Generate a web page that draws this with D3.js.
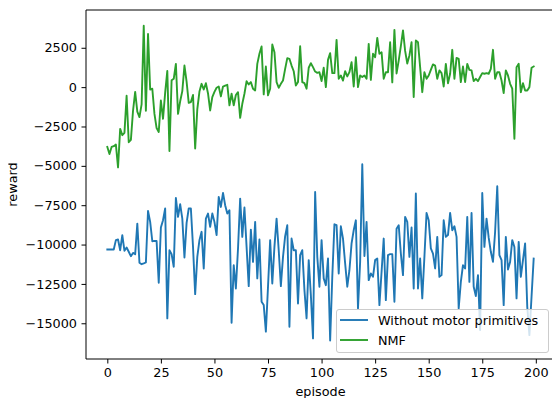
<!DOCTYPE html>
<html>
<head>
<meta charset="utf-8">
<script src="https://cdn.jsdelivr.net/npm/d3@7"></script>
<style>
  html, body { margin: 0; padding: 0; background: #fff; }
  svg { display: block; }
  text { font-family: "DejaVu Sans", sans-serif; }
</style>
</head>
<body>
<svg id="chart" width="552" height="398"></svg>
<script>
// ---- data ----
const seriesNames = ["Without motor primitives", "NMF"];
const seriesColors = ["#1f77b4", "#2ca02c"];
const xTicks = [0, 25, 50, 75, 100, 125, 150, 175, 200];
const yTicks = [2500, 0, -2500, -5000, -7500, -10000, -12500, -15000];
const xLabel = "episode";
const yLabel = "reward";

const withoutPrimitives = [
  -10310, -10310, -10310, -10310, -9720, -9680, -10360, -9400, -10400, -10190,
  -10460, -10740, -10530, -10610, -8670, -11160, -11250, -11200, -11140, -7860,
  -8560, -9790, -9770, -9770, -12430, -8920, -8450, -7710, -14690, -10360,
  -10610, -11410, -7040, -8240, -7440, -8350, -10820, -8620, -7710, -7710,
  -10150, -13150, -10780, -9720, -9190, -11520, -8350, -8030, -8880, -8030,
  -8560, -9400, -6970, -7610, -6720, -7500, -8030, -7820, -14970, -11310,
  -12790, -10250, -7080, -9510, -7650, -10150, -12640, -9050, -11100, -8560,
  -12150, -9680, -13630, -13840, -15530, -12680, -9720, -12470, -10150, -8350,
  -10360, -12640, -10780, -9470, -8770, -15220, -9620, -10360, -10360, -13740,
  -10670, -10360, -12890, -14690, -10990, -13210, -15960, -6660, -10780, -12680,
  -9720, -12150, -12580, -10890, -16100, -12050, -8710, -8770, -11840, -8840,
  -9620, -11200, -12680, -11630, -9930, -9090, -8460, -14060, -11100, -4900,
  -10730, -8560, -12260, -11840, -12050, -10990, -10890, -13850, -11740, -9620,
  -13530, -10670, -10610, -10610, -13630, -9000, -8770, -10570, -11940, -8240,
  -8560, -10780, -8920, -12790, -6760, -12790, -10890, -13420, -10780, -7990,
  -8460, -10250, -10570, -11520, -9510, -12050, -11940, -8460, -9510, -9400,
  -7990, -9090, -8840, -9510, -14060, -12370, -11310, -11520, -8240, -12370,
  -7990, -12680, -13270, -11940, -15430, -6720, -10150, -8350, -9560, -10460,
  -11100, -9190, -6300, -10670, -10990, -13850, -9510, -11580, -11100, -9720,
  -10150, -13420, -9830, -12050, -10990, -9930, -13950, -15750, -13320, -10890
];

const nmf = [
  -3800, -4250, -3800, -3750, -3650, -5100, -2650, -3050, -2900, -550,
  -3500, -3350, -1500, -300, -1550, -1900, -1100, 3900, -1500, 3380,
  -150, -100, -1700, -2600, -2850, -850, -2010, -350, 1030, -4060,
  440, 530, 1480, -1700, -900, -250, 1370, 350, -1000, -950,
  -500, -3900, -1400, -280, 210, -150, 250, -400, -1480, -630,
  -300, -40, 40, -590, 40, 100, 150, -1160, -420, -1160,
  -500, -320, -1950, -1060, -420, 380, 170, 320, -100, -210,
  1480, 2120, 2580, -460, 1310, -520, -100, 2710, 2220, 320,
  -40, 210, 420, 1160, 1840, 1800, 1370, 1010, 100, 320,
  2600, 320, 250, -100, 1230, 1520, 1270, 990, 910, 950,
  380, 1230, 0, 1730, 2160, 890, 890, 3000, 530, 740,
  420, 1010, 680, 950, 1590, 40, 1900, 0, 740, 640,
  740, 530, 2750, 460, 2120, 1900, 3130, 2120, 2220, 530,
  950, 950, 2850, 300, 3640, 870, 1690, 2600, 3600, 2300,
  1500, 2010, 2850, -630, 2960, 2850, 1270, -320, 950, 530,
  740, 1100, 1440, 1370, 530, 1060, 890, 40, 1480, 250,
  850, 2370, 530, 1860, 1800, 320, 1310, 320, 1480, 1100,
  1060, 380, 530, 380, 640, 890, 850, 890, 850, 1160,
  2370, 530, 950, 950, 420, -380, 1060, 740, 210, -100,
  -3280, 1270, 1480, -320, 250, -210, -210, 0, 1230, 1310
];

const allSeries = [withoutPrimitives, nmf];

// ---- layout ----
const W = 552, H = 398;
const plot = { left: 86, top: 10, right: 555, bottom: 359 };
const fontSize = 12.8;
const tickLen = 4.5;

const svg = d3.select("#chart");

const n = withoutPrimitives.length;
const xPad = (n - 1) * 0.05;
const x = d3.scaleLinear()
  .domain([0 - xPad, (n - 1) + xPad])
  .range([plot.left, plot.right]);

const allVals = withoutPrimitives.concat(nmf);
const yMin = d3.min(allVals), yMax = d3.max(allVals);
const yPad = (yMax - yMin) * 0.05;
const y = d3.scaleLinear()
  .domain([yMin - yPad - 170, yMax + yPad])
  .range([plot.bottom, plot.top]);

// clip
const defs = svg.append("defs");
defs.append("clipPath").attr("id", "plotclip")
  .append("rect")
  .attr("x", plot.left).attr("y", plot.top)
  .attr("width", plot.right - plot.left).attr("height", plot.bottom - plot.top);
defs.append("clipPath").attr("id", "ylabclip")
  .append("rect").attr("x", 8.3).attr("y", 0).attr("width", 60).attr("height", H);

// lines
const line = d3.line()
  .x((d, i) => x(i))
  .y(d => y(d));

const lines = svg.append("g").attr("clip-path", "url(#plotclip)");
allSeries.forEach((s, k) => {
  lines.append("path")
    .datum(s)
    .attr("fill", "none")
    .attr("stroke", seriesColors[k])
    .attr("stroke-width", 1.9)
    .attr("stroke-linejoin", "round")
    .attr("stroke-linecap", "square")
    .attr("d", line);
});

// axes
const fmt = d3.format("d");
const xAxis = d3.axisBottom(x).tickValues(xTicks).tickFormat(fmt)
  .tickSizeInner(tickLen).tickSizeOuter(0).tickPadding(4.5);
const yAxis = d3.axisLeft(y).tickValues(yTicks).tickFormat(fmt)
  .tickSizeInner(tickLen).tickSizeOuter(0).tickPadding(4.5);

const gx = svg.append("g").attr("transform", `translate(0,${plot.bottom})`).call(xAxis);
const gy = svg.append("g").attr("transform", `translate(${plot.left},0)`).call(yAxis);
[gx, gy].forEach(g => {
  g.select(".domain").remove();
  g.selectAll("line").attr("stroke", "#000").attr("stroke-width", 1);
  g.selectAll("text").attr("fill", "#000")
    .style("font-family", "'DejaVu Sans', sans-serif")
    .style("font-size", fontSize + "px");
});

// spines
const spines = svg.append("g").attr("stroke", "#000").attr("stroke-width", 1).attr("fill", "none");
spines.append("line").attr("x1", plot.left).attr("x2", plot.left).attr("y1", plot.top).attr("y2", plot.bottom);
spines.append("line").attr("x1", plot.left).attr("x2", plot.right).attr("y1", plot.bottom).attr("y2", plot.bottom);
spines.append("line").attr("x1", plot.left).attr("x2", plot.right).attr("y1", plot.top).attr("y2", plot.top);
spines.append("line").attr("x1", plot.right).attr("x2", plot.right).attr("y1", plot.top).attr("y2", plot.bottom);

// axis labels
svg.append("text")
  .attr("x", (plot.left + plot.right) / 2)
  .attr("y", 396)
  .attr("text-anchor", "middle")
  .style("font-size", fontSize + "px")
  .attr("fill", "#000")
  .text(xLabel);

svg.append("g").attr("clip-path", "url(#ylabclip)")
  .append("text")
  .attr("transform", `translate(16.7,${(plot.top + plot.bottom) / 2}) rotate(-90)`)
  .attr("text-anchor", "middle")
  .style("font-size", fontSize + "px")
  .attr("fill", "#000")
  .text(yLabel);

// legend
const lg = svg.append("g");
lg.append("rect")
  .attr("x", 336.5).attr("y", 309.5)
  .attr("width", 212).attr("height", 43)
  .attr("rx", 2.5).attr("ry", 2.5)
  .attr("fill", "#fff").attr("fill-opacity", 0.8)
  .attr("stroke", "#cccccc").attr("stroke-width", 1);
seriesNames.forEach((name, k) => {
  const cy = 320 + k * 20;
  lg.append("line")
    .attr("x1", 340).attr("x2", 368)
    .attr("y1", cy).attr("y2", cy)
    .attr("stroke", seriesColors[k]).attr("stroke-width", 1.9);
  lg.append("text")
    .attr("x", 378).attr("y", cy + 5)
    .style("font-size", fontSize + "px")
    .attr("fill", "#000")
    .text(name);
});
</script>
</body>
</html>
